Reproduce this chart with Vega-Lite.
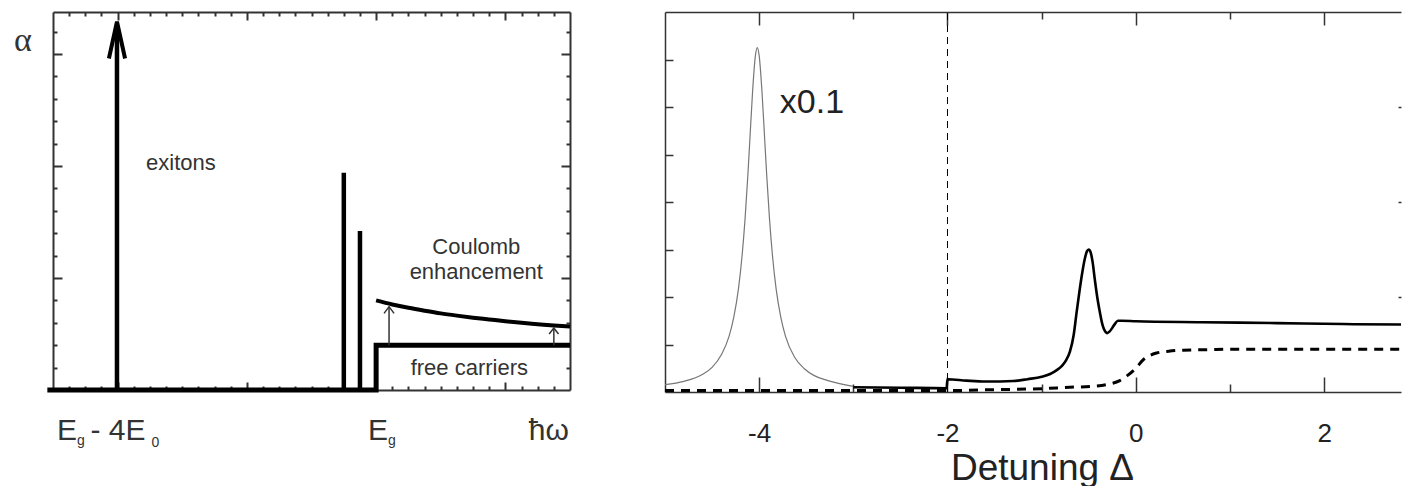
{
  "$schema": "https://vega.github.io/schema/vega-lite/v6.json",
  "padding": 0,
  "autosize": {"type": "pad"},
  "bounds": "flush",
  "spacing": 95,
  "config": {
    "view": {"stroke": null},
    "axis": {"grid": false, "domainColor": "#333", "tickColor": "#333", "domainWidth": 1.5, "tickWidth": 1.5, "labelColor": "#222", "titleColor": "#222", "labelFont": "Liberation Sans", "titleFont": "Liberation Sans", "titleFontWeight": "normal"},
    "text": {"font": "Liberation Sans", "color": "#333"}
  },
  "datasets": {
    "thick": [{"i": 0, "x": -0.35, "y": 0}, {"i": 1, "x": 20, "y": 0}, {"i": 2, "x": 20, "y": 2}, {"i": 3, "x": 32, "y": 2}],
    "sticks": [{"x": 18.0, "y": 0, "y2": 9.7}, {"x": 19.0, "y": 0, "y2": 7.1}, {"x": 3.96, "y": 0, "y2": 16.2}],
    "heads": [{"g": "a", "x": 3.46, "y": 14.8}, {"g": "a", "x": 3.96, "y": 16.44}, {"g": "a", "x": 4.46, "y": 14.8}],
    "smallshafts": [{"x": 20.8, "y": 2, "y2": 3.72}, {"x": 31.0, "y": 2, "y2": 2.77}],
    "smallheads": [{"g": "b", "x": 20.49, "y": 3.42}, {"g": "b", "x": 20.8, "y": 3.72}, {"g": "b", "x": 21.11, "y": 3.42}, {"g": "c", "x": 30.71, "y": 2.5}, {"g": "c", "x": 31.0, "y": 2.77}, {"g": "c", "x": 31.29, "y": 2.5}],
    "coulomb": [{"x": 20, "y": 4.0}, {"x": 21, "y": 3.82}, {"x": 22, "y": 3.67}, {"x": 23, "y": 3.54}, {"x": 24, "y": 3.42}, {"x": 25, "y": 3.32}, {"x": 26, "y": 3.23}, {"x": 27, "y": 3.15}, {"x": 28, "y": 3.07}, {"x": 29, "y": 3.0}, {"x": 30, "y": 2.94}, {"x": 31, "y": 2.88}, {"x": 32, "y": 2.83}],
    "ltext": [{"x": 7.92, "y": 10.13, "t": "exitons"}, {"x": 26.2, "y": 6.38, "t": "Coulomb"}, {"x": 26.2, "y": 5.27, "t": "enhancement"}, {"x": 25.77, "y": 0.98, "t": "free carriers"}],
    "alpha": [{"x": -1.86, "y": 15.58, "t": "α"}],
    "bigleft": [{"x": 0.25, "y": -2.23, "t": "E"}, {"x": 19.5, "y": -2.23, "t": "E"}],
    "bigright": [{"x": 5.73, "y": -2.23, "t": "- 4E"}, {"x": 31.93, "y": -2.23, "t": "ħω"}],
    "subs": [{"x": 1.49, "y": -2.46, "t": "g"}, {"x": 6.1, "y": -2.54, "t": "0"}, {"x": 20.73, "y": -2.46, "t": "g"}],
    "lor": [{"x": -5.0, "y": 0.155}, {"x": -4.8, "y": 0.225}, {"x": -4.6, "y": 0.375}, {"x": -4.5, "y": 0.52}, {"x": -4.4, "y": 0.79}, {"x": -4.32, "y": 1.17}, {"x": -4.27, "y": 1.57}, {"x": -4.22, "y": 2.17}, {"x": -4.18, "y": 2.9}, {"x": -4.15, "y": 3.64}, {"x": -4.12, "y": 4.57}, {"x": -4.1, "y": 5.27}, {"x": -4.07, "y": 6.32}, {"x": -4.04, "y": 7.08}, {"x": -4.02, "y": 7.25}, {"x": -4.0, "y": 7.08}, {"x": -3.97, "y": 6.32}, {"x": -3.94, "y": 5.27}, {"x": -3.92, "y": 4.57}, {"x": -3.89, "y": 3.64}, {"x": -3.86, "y": 2.9}, {"x": -3.82, "y": 2.17}, {"x": -3.77, "y": 1.57}, {"x": -3.72, "y": 1.17}, {"x": -3.62, "y": 0.72}, {"x": -3.52, "y": 0.49}, {"x": -3.42, "y": 0.35}, {"x": -3.27, "y": 0.24}, {"x": -3.0, "y": 0.12}],
    "solid": [{"x": -3.0, "y": 0.1}, {"x": -2.5, "y": 0.09}, {"x": -2.01, "y": 0.08}, {"x": -2.0, "y": 0.27}, {"x": -1.8, "y": 0.24}, {"x": -1.6, "y": 0.22}, {"x": -1.44, "y": 0.22}, {"x": -1.3, "y": 0.23}, {"x": -1.15, "y": 0.27}, {"x": -1.0, "y": 0.32}, {"x": -0.91, "y": 0.38}, {"x": -0.84, "y": 0.46}, {"x": -0.78, "y": 0.56}, {"x": -0.74, "y": 0.67}, {"x": -0.7, "y": 0.85}, {"x": -0.66, "y": 1.2}, {"x": -0.63, "y": 1.66}, {"x": -0.6, "y": 2.1}, {"x": -0.57, "y": 2.5}, {"x": -0.54, "y": 2.82}, {"x": -0.52, "y": 2.96}, {"x": -0.5, "y": 3.0}, {"x": -0.48, "y": 2.94}, {"x": -0.46, "y": 2.75}, {"x": -0.435, "y": 2.36}, {"x": -0.41, "y": 2.0}, {"x": -0.38, "y": 1.66}, {"x": -0.36, "y": 1.46}, {"x": -0.34, "y": 1.33}, {"x": -0.32, "y": 1.26}, {"x": -0.305, "y": 1.24}, {"x": -0.28, "y": 1.27}, {"x": -0.25, "y": 1.35}, {"x": -0.22, "y": 1.44}, {"x": -0.19, "y": 1.5}, {"x": -0.15, "y": 1.5}, {"x": 0.0, "y": 1.49}, {"x": 0.7, "y": 1.47}, {"x": 1.5, "y": 1.45}, {"x": 2.2, "y": 1.43}, {"x": 2.816, "y": 1.42}],
    "dash": [{"x": -5.0, "y": 0.03}, {"x": -4.0, "y": 0.03}, {"x": -3.0, "y": 0.03}, {"x": -2.0, "y": 0.03}, {"x": -1.5, "y": 0.05}, {"x": -1.0, "y": 0.07}, {"x": -0.7, "y": 0.1}, {"x": -0.45, "y": 0.12}, {"x": -0.3, "y": 0.16}, {"x": -0.17, "y": 0.24}, {"x": -0.08, "y": 0.36}, {"x": 0.0, "y": 0.5}, {"x": 0.08, "y": 0.68}, {"x": 0.15, "y": 0.77}, {"x": 0.22, "y": 0.82}, {"x": 0.35, "y": 0.86}, {"x": 0.5, "y": 0.88}, {"x": 0.75, "y": 0.89}, {"x": 1.03, "y": 0.9}, {"x": 2.816, "y": 0.9}],
    "vline": [{"x": -2, "y": 0, "y2": 8}],
    "rtext": [{"x": -3.44, "y": 6.08, "t": "x0.1"}]
  },
  "hconcat": [
    {
      "width": 517,
      "height": 378,
      "resolve": {"axis": {"x": "independent", "y": "independent"}},
      "layer": [
        {
          "data": {"name": "thick"},
          "mark": {"type": "line", "color": "black", "strokeWidth": 5, "strokeJoin": "miter", "strokeCap": "butt"},
          "encoding": {
            "x": {"field": "x", "type": "quantitative", "scale": {"domain": [0, 32], "nice": false, "zero": false},
              "axis": {"orient": "bottom", "title": null, "labels": false, "values": [1,2,3,4,5,6,7,8,9,10,11,12,13,14,15,16,17,18,19,20,21,22,23,24,25,26,27,28,29,30,31], "domainWidth": 2, "tickWidth": 2, "tickSize": {"condition": {"test": "datum.value % 8 === 4", "value": -8}, "value": -4}}},
            "y": {"field": "y", "type": "quantitative", "scale": {"domain": [0, 16.875], "nice": false, "zero": false},
              "axis": {"orient": "left", "title": null, "labels": false, "values": [1,2,3,4,5,6,7,8,9,10,11,12,13,14,15,16], "domainWidth": 2, "tickWidth": 2, "tickSize": {"condition": {"test": "datum.value % 5 === 0", "value": -9}, "value": -4}}},
            "order": {"field": "i", "type": "quantitative"}
          }
        },
        {
          "data": {"name": "sticks"},
          "mark": {"type": "rule", "color": "black", "strokeWidth": 4.5},
          "encoding": {
            "x": {"field": "x", "type": "quantitative",
              "axis": {"orient": "top", "title": null, "labels": false, "values": [1,2,3,4,5,6,7,8,9,10,11,12,13,14,15,16,17,18,19,20,21,22,23,24,25,26,27,28,29,30,31], "domainWidth": 2, "tickWidth": 2, "tickSize": {"condition": {"test": "datum.value % 8 === 4", "value": -8}, "value": -4}}},
            "y": {"field": "y", "type": "quantitative",
              "axis": {"orient": "right", "title": null, "labels": false, "values": [1,2,3,4,5,6,7,8,9,10,11,12,13,14,15,16], "domainWidth": 2, "tickWidth": 2, "tickSize": {"condition": {"test": "datum.value % 5 === 0", "value": -9}, "value": -4}}},
            "y2": {"field": "y2"}
          }
        },
        {
          "data": {"name": "coulomb"},
          "mark": {"type": "line", "color": "black", "strokeWidth": 4, "interpolate": "monotone"},
          "encoding": {
            "x": {"field": "x", "type": "quantitative",
              "axis": {"orient": "top", "offset": 12, "title": null, "labels": false, "ticks": false, "domain": true, "domainOpacity": 0}},
            "y": {"field": "y", "type": "quantitative",
              "axis": {"orient": "left", "offset": 53, "title": null, "labels": false, "ticks": false, "domain": true, "domainOpacity": 0}}
          }
        },
        {
          "data": {"name": "heads"},
          "mark": {"type": "line", "color": "black", "strokeWidth": 4, "strokeJoin": "miter"},
          "encoding": {
            "x": {"field": "x", "type": "quantitative", "axis": null},
            "y": {"field": "y", "type": "quantitative", "axis": null},
            "detail": {"field": "g"}
          }
        },
        {
          "data": {"name": "smallshafts"},
          "mark": {"type": "rule", "color": "#333", "strokeWidth": 1.5},
          "encoding": {
            "x": {"field": "x", "type": "quantitative", "axis": null},
            "y": {"field": "y", "type": "quantitative", "axis": null},
            "y2": {"field": "y2"}
          }
        },
        {
          "data": {"name": "smallheads"},
          "mark": {"type": "line", "color": "#333", "strokeWidth": 1.5},
          "encoding": {
            "x": {"field": "x", "type": "quantitative", "axis": null},
            "y": {"field": "y", "type": "quantitative", "axis": null},
            "detail": {"field": "g"}
          }
        },
        {
          "data": {"name": "ltext"},
          "mark": {"type": "text", "fontSize": 22, "align": "center", "baseline": "middle", "color": "#333"},
          "encoding": {
            "x": {"field": "x", "type": "quantitative", "axis": null},
            "y": {"field": "y", "type": "quantitative", "axis": null},
            "text": {"field": "t"}
          }
        },
        {
          "data": {"name": "alpha"},
          "mark": {"type": "text", "fontSize": 34, "font": "Liberation Serif", "align": "center", "baseline": "middle", "color": "#333"},
          "encoding": {
            "x": {"field": "x", "type": "quantitative", "axis": null},
            "y": {"field": "y", "type": "quantitative", "axis": null},
            "text": {"field": "t"}
          }
        },
        {
          "data": {"name": "bigleft"},
          "mark": {"type": "text", "fontSize": 30, "align": "left", "baseline": "alphabetic", "color": "#333"},
          "encoding": {
            "x": {"field": "x", "type": "quantitative", "axis": null},
            "y": {"field": "y", "type": "quantitative", "axis": null},
            "text": {"field": "t"}
          }
        },
        {
          "data": {"name": "bigright"},
          "mark": {"type": "text", "fontSize": 30, "align": "right", "baseline": "alphabetic", "color": "#333"},
          "encoding": {
            "x": {"field": "x", "type": "quantitative", "axis": null},
            "y": {"field": "y", "type": "quantitative", "axis": null},
            "text": {"field": "t"}
          }
        },
        {
          "data": {"name": "subs"},
          "mark": {"type": "text", "fontSize": 14, "align": "left", "baseline": "alphabetic", "color": "#333"},
          "encoding": {
            "x": {"field": "x", "type": "quantitative", "axis": null},
            "y": {"field": "y", "type": "quantitative", "axis": null},
            "text": {"field": "t"}
          }
        }
      ]
    },
    {
      "width": 736,
      "height": 380,
      "resolve": {"axis": {"x": "independent", "y": "independent"}},
      "layer": [
        {
          "data": {"name": "lor"},
          "mark": {"type": "line", "color": "#777", "strokeWidth": 1.2, "interpolate": "monotone"},
          "encoding": {
            "x": {"field": "x", "type": "quantitative", "scale": {"domain": [-5, 2.816], "nice": false, "zero": false},
              "axis": {"orient": "bottom", "title": null, "labels": false, "values": [-4,-3,-2,-1,0,1,2], "tickSize": {"condition": {"test": "datum.value % 2 === 0", "value": -15}, "value": -8}}},
            "y": {"field": "y", "type": "quantitative", "scale": {"domain": [0, 8], "nice": false, "zero": false},
              "axis": {"orient": "left", "title": null, "labels": false, "values": [1,2,3,4,5,6,7], "tickSize": -8}}
          }
        },
        {
          "data": {"name": "solid"},
          "mark": {"type": "line", "color": "black", "strokeWidth": 2.6, "interpolate": "monotone"},
          "encoding": {
            "x": {"field": "x", "type": "quantitative",
              "axis": {"orient": "top", "title": null, "labels": false, "values": [-4,-3,-2,-1,0,1,2], "tickSize": {"condition": {"test": "datum.value % 2 === 0", "value": -13}, "value": -7}}},
            "y": {"field": "y", "type": "quantitative",
              "axis": {"orient": "right", "title": null, "labels": false, "domain": false, "values": [2,4,6], "tickSize": -3}}
          }
        },
        {
          "data": {"name": "dash"},
          "mark": {"type": "line", "color": "black", "strokeWidth": 3, "strokeDash": [9, 7], "interpolate": "monotone"},
          "encoding": {
            "x": {"field": "x", "type": "quantitative",
              "axis": {"orient": "bottom", "title": "Detuning Δ", "titleFontSize": 37, "titleBaseline": "alphabetic", "titleY": 87, "titleX": 377, "titleAlign": "center", "ticks": false, "domain": false, "values": [-4,-2,0,2], "labelFontSize": 26, "labelPadding": 28, "labelExpr": "datum.value < 0 ? '-' + abs(datum.value) : '' + datum.value"}},
            "y": {"field": "y", "type": "quantitative", "axis": null}
          }
        },
        {
          "data": {"name": "vline"},
          "mark": {"type": "rule", "color": "black", "strokeWidth": 1, "strokeDash": [7, 5]},
          "encoding": {
            "x": {"field": "x", "type": "quantitative", "axis": null},
            "y": {"field": "y", "type": "quantitative", "axis": null},
            "y2": {"field": "y2"}
          }
        },
        {
          "data": {"name": "rtext"},
          "mark": {"type": "text", "fontSize": 34, "align": "center", "baseline": "middle", "color": "#222"},
          "encoding": {
            "x": {"field": "x", "type": "quantitative", "axis": null},
            "y": {"field": "y", "type": "quantitative", "axis": null},
            "text": {"field": "t"}
          }
        }
      ]
    }
  ]
}
